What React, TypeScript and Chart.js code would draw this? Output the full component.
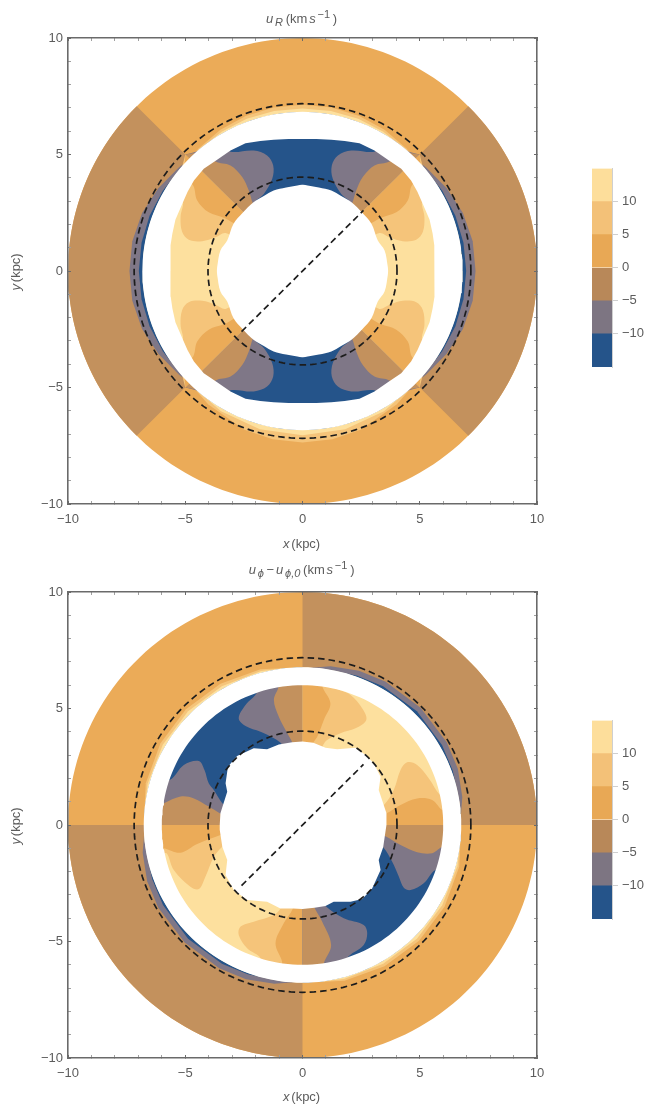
import React, { useEffect, useRef } from "react";
import { Chart, registerables } from "chart.js";
Chart.register(...registerables);

type P = [number, number];
type Run = { t: string; i?: boolean; sub?: boolean; sup?: boolean };

const YELLOW = "#fde09e", LIGHT = "#f5c47a", ORANGE = "#ebab58", BROWN = "#c3915d", GRAY = "#7f7787", BLUE = "#25548a";
const binColors = [BLUE, "#7d7582", "#b88859", "#e8a855", "#f3c178", "#fdde9b"];
const binRanges: P[] = [[-15, -10], [-10, -5], [-5, 0], [0, 5], [5, 10], [10, 15]];
const barTicks = [-10, -5, 0, 5, 10];

const outerRadius = 10;
const dashedRadii = [4.03, 7.18];
const dashedBar: P[] = [[-2.6, -2.6], [2.6, 2.6]];

// ---- upper panel (u_R), upper-left quadrant outlines, kpc ----
const topGapRadius = 6.82;
const topBandEdge: P[] = [[-5.63, 0], [-5.63, 0.6], [-5.62, 1.1], [-5.55, 1.6], [-5.42, 2.2], [-5.13, 2.88], [-4.9, 3.4], [-4.63, 3.88], [-4.21, 4.39], [-3.64, 4.78], [-3.07, 5.17], [-2.43, 5.48], [-1.8, 5.58], [-1.23, 5.63], [-0.6, 5.66], [-0.02, 5.67]];
const topHoleEdge: P[] = [[-3.65, 0], [-3.64, 0.16], [-3.5, 0.88], [-3.21, 1.31], [-2.94, 2.03], [-2.55, 2.5], [-2.09, 2.95], [-1.65, 3.22], [-1.23, 3.45], [-0.7, 3.58], [-0.22, 3.67], [-0.02, 3.7]];
const topGrayLobe: P[] = [[-5, 5], [-3.25, 5.4], [-3.07, 5.12], [-2.08, 5.17], [-1.51, 4.96], [-1.25, 4.53], [-1.29, 3.96], [-1.65, 3.31], [-2.05, 2.91], [-1.7, 2.4], [-2, 2]];
const topBrownLobe: P[] = [[-5, 5], [-4.0, 5.1], [-3.71, 4.7], [-3.07, 4.53], [-2.57, 4.03], [-2.29, 3.45], [-2.12, 2.91], [-1.8, 2.3], [-2, 2]];
const topOrangeLobe: P[] = [[-5, 5], [-5.0, 3.95], [-4.66, 3.67], [-4.49, 3.03], [-4.0, 2.52], [-3.33, 2.28], [-3.0, 2.09], [-2.2, 1.6], [-2, 2]];
const topLightLobe: P[] = [[-5, 5], [-5.4, 3.2], [-5.1, 2.98], [-5.2, 2.31], [-5.13, 1.67], [-4.85, 1.34], [-4.28, 1.28], [-3.71, 1.45], [-3.28, 1.63], [-2.5, 1.2], [-2, 2]];
const topBlueAngles = [[45, 135], [225, 315]];
const topOuterBrownAngles = [[135, 225], [-45, 45]];
const topGrayRim: P[] = [[136, 6.82], [140, 6.9], [150, 7.1], [160, 7.28], [170, 7.37], [180, 7.38], [190, 7.37], [200, 7.28], [210, 7.1], [220, 6.9], [224, 6.82]];
const topBlueRim: P[] = [[140, 6.82], [150, 6.88], [160, 6.94], [170, 6.97], [180, 6.98], [190, 6.97], [200, 6.94], [210, 6.88], [220, 6.82]];
const topLightRimUp: P[] = [[46, 6.82], [50, 6.88], [60, 7.0], [70, 7.08], [80, 7.12], [90, 7.13], [100, 7.12], [110, 7.08], [120, 7.0], [130, 6.88], [134, 6.82]];
const topYellowRimUp: P[] = [[47, 6.82], [60, 6.9], [70, 6.95], [80, 6.97], [90, 6.97], [100, 6.97], [110, 6.95], [120, 6.9], [133, 6.82]];
const topLightRimDown: P[] = [[226, 6.82], [235, 7.0], [250, 7.25], [260, 7.33], [270, 7.36], [280, 7.33], [290, 7.25], [305, 7.0], [314, 6.82]];
const topYellowRimDown: P[] = [[227, 6.82], [240, 6.95], [255, 7.03], [270, 7.05], [285, 7.03], [300, 6.95], [313, 6.82]];

// ---- lower panel (u_phi), outlines, kpc ----
const lowGapRadius = 6.76;
const lowBandRadius = 6.0;
const lowHoleEdge: P[] = [[-3.53, 0], [-3.5, 0.5], [-3.21, 1.43], [-3.28, 1.79], [-3.18, 2.5], [-2.79, 2.96], [-2.08, 3.29], [-1.51, 3.25], [-1.01, 3.46], [-0.44, 3.55], [0, 3.58], [0.46, 3.53], [0.98, 3.32], [1.48, 3.25], [2.26, 3.32], [2.69, 3.0], [3.04, 2.65], [3.33, 2.07], [3.25, 1.5], [3.58, 0.5], [3.58, 0], [3.44, -0.96], [3.25, -1.5], [3.33, -1.93], [2.97, -2.72], [2.55, -3.18], [2.05, -3.29], [1.33, -3.29], [0.98, -3.48], [0.51, -3.55], [0, -3.6], [-0.41, -3.58], [-0.94, -3.58], [-1.51, -3.29], [-2.36, -3.22], [-2.93, -2.79], [-3.28, -2.15], [-3.21, -1.5], [-3.42, -0.93], [-3.53, -0.2]];
const lowBrownLeft: P[] = [[-6.2, 0], [-6.2, 0.8], [-5.91, 0.93], [-5.2, 1.22], [-4.63, 1.14], [-4.0, 0.79], [-3.53, 0.5], [-3, 0.2], [-3, 0]];
const lowGrayLeft: P[] = [[-6.2, 0], [-6.3, 1.95], [-5.66, 1.93], [-5.06, 2.58], [-4.42, 2.75], [-4.18, 2.36], [-4.0, 1.79], [-3.78, 1.5], [-3.42, 0.93], [-3, 0.5], [-3, 0]];
const lowGrayTop: P[] = [[0, 6.3], [-2.05, 6.2], [-1.93, 5.72], [-2.43, 5.15], [-2.72, 4.58], [-2.43, 4.25], [-1.79, 4.0], [-1.22, 3.72], [-0.87, 3.46], [-0.6, 3.0], [0, 3.0]];
const lowBrownTop: P[] = [[0, 6.3], [-1.05, 6.3], [-1.01, 5.97], [-1.22, 5.36], [-1.01, 4.65], [-0.65, 3.94], [-0.44, 3.55], [-0.3, 3.0], [0, 3.0]];
const lowOrangeTop: P[] = [[0, 6.3], [0.9, 6.3], [0.84, 5.97], [1.19, 5.22], [0.91, 4.51], [0.63, 3.79], [0.46, 3.53], [0.3, 3.0], [0, 3.0]];
const lowLightTop: P[] = [[0, 6.3], [1.45, 6.3], [1.34, 5.94], [2.05, 5.58], [2.55, 5.0], [2.72, 4.51], [2.26, 4.15], [1.62, 3.94], [1.05, 3.65], [0.88, 3.43], [0.7, 3.0], [0, 3.0]];
const lowLightRight: P[] = [[3, 0], [3, 0.6], [3.47, 0.86], [3.89, 1.5], [4.18, 2.36], [4.46, 2.69], [4.89, 2.58], [5.39, 2.0], [5.88, 1.29], [6.3, 1.2], [6.3, 0]];
const lowOrangeRight: P[] = [[3, 0], [3, 0.3], [3.58, 0.5], [4.18, 0.86], [4.89, 1.14], [5.53, 1.07], [5.96, 0.64], [6.3, 0.6], [6.3, 0]];
const lowOrangeLeft: P[] = [[-6.3, 0], [-6.3, -0.9], [-5.91, -1.0], [-5.2, -1.19], [-4.49, -0.82], [-3.5, -0.43], [-3, -0.3], [-3, 0]];
const lowLightLeft: P[] = [[-6.3, 0], [-6.1, -1.27], [-5.8, -1.21], [-5.49, -1.93], [-4.78, -2.65], [-4.42, -2.75], [-4.14, -2.22], [-3.78, -1.36], [-3.42, -0.93], [-3, -0.6], [-3, 0]];
const lowOrangeBottom: P[] = [[0, -3], [-0.3, -3], [-0.41, -3.58], [-0.8, -4.22], [-1.15, -5.08], [-0.87, -5.87], [-0.9, -6.3], [0, -6.3]];
const lowLightBottom: P[] = [[0, -3], [-0.7, -3], [-0.94, -3.58], [-1.22, -3.86], [-2.08, -4.15], [-2.64, -4.36], [-2.72, -4.72], [-2.36, -5.29], [-1.79, -5.72], [-1.9, -6.3], [0, -6.3]];
const lowBrownBottom: P[] = [[0, -3], [0.3, -3], [0.51, -3.55], [0.84, -4.15], [1.22, -5.15], [0.91, -5.94], [0.95, -6.3], [0, -6.3]];
const lowGrayBottom: P[] = [[0, -3], [0.7, -3], [0.98, -3.48], [1.76, -4.0], [2.61, -4.29], [2.76, -4.65], [2.61, -5.15], [1.91, -5.72], [2.05, -6.2], [0, -6.3]];
const lowBrownRight: P[] = [[3, 0], [3, -0.3], [3.58, -0.5], [4.18, -0.86], [4.89, -1.17], [5.53, -1.21], [5.93, -0.96], [6.3, -0.9], [6.3, 0]];
const lowGrayRight: P[] = [[3, 0], [3, -0.6], [3.44, -0.96], [3.82, -1.57], [4.11, -2.22], [4.32, -2.69], [4.61, -2.79], [5.17, -2.5], [5.67, -1.93], [6.1, -2.05], [6.3, 0]];
const lowOuterBrownAngles = [[0, 90], [180, 270]];
const lowBandBlueAngles = [[90, 180], [270, 360]];
const lowGrayRim: P[] = [[3, 6.76], [10, 6.92], [20, 7.05], [30, 7.1], [45, 7.12], [60, 7.1], [70, 7.05], [80, 6.92], [87, 6.76]];
const lowBlueRim: P[] = [[10, 6.76], [20, 6.82], [30, 6.87], [45, 6.9], [60, 6.87], [70, 6.82], [80, 6.76]];
const lowLightRim: P[] = [[92, 6.76], [105, 6.92], [120, 7.0], [135, 7.03], [150, 7.0], [165, 6.92], [178, 6.76]];
const lowYellowRim: P[] = [[95, 6.76], [105, 6.84], [120, 6.88], [135, 6.9], [150, 6.88], [165, 6.84], [175, 6.76]];

const titleTop: Run[] = [{ t: "u", i: true }, { t: "R", i: true, sub: true }, { t: "(km" }, { t: "s", i: true }, { t: "−1", sup: true }, { t: ")" }];
const titleLow: Run[] = [{ t: "u", i: true }, { t: "ϕ", i: true, sub: true }, { t: "−" }, { t: "u", i: true }, { t: "ϕ,0", i: true, sub: true }, { t: "(km" }, { t: "s", i: true }, { t: "−1", sup: true }, { t: ")" }];
const xLabel: Run[] = [{ t: "x", i: true }, { t: "(kpc)" }];
const yLabel: Run[] = [{ t: "y", i: true }, { t: "(kpc)" }];

const rad = Math.PI / 180;
const arc = (r: number, a0: number, a1: number): P[] => {
  const pts: P[] = [];
  const n = Math.ceil(Math.abs(a1 - a0) / 2);
  for (let k = 0; k <= n; k++) {
    const a = (a0 + ((a1 - a0) * k) / n) * rad;
    pts.push([r * Math.cos(a), r * Math.sin(a)]);
  }
  return pts;
};
const pie = (r: number, a0: number, a1: number): P[] => [[0, 0], ...arc(r, a0, a1)];
const rimPie = (rim: P[], shift = 0): P[] => [[0, 0], ...rim.map(([a, r]): P => [r * Math.cos((a + shift) * rad), r * Math.sin((a + shift) * rad)])];
const fourWay = (p: P[]): P[][] => [p, p.map(([x, y]): P => [-x, y]), p.map(([x, y]): P => [x, -y]), p.map(([x, y]): P => [-x, -y])];
const byAngle = (p: P[]): P[] => [...p].sort((u, v) => Math.atan2(u[1], u[0]) - Math.atan2(v[1], v[0]));
const ringOutline = (quarter: P[]): P[] => byAngle(fourWay(quarter).flat());
const ringMask = (outer: P[], inner: P[]): P[] => {
  const rev = [...inner].reverse();
  return [...outer, outer[0], rev[rev.length - 1], ...rev];
};

type Shape = { poly: P[]; fill?: string; dash?: boolean; smooth?: boolean };

function topShapes(): Shape[] {
  const s: Shape[] = [];
  s.push({ poly: arc(outerRadius, 0, 360), fill: ORANGE });
  topOuterBrownAngles.forEach(([a, b]) => s.push({ poly: pie(outerRadius, a, b), fill: BROWN }));
  [0, 180].forEach((sh) => {
    s.push({ poly: rimPie(topGrayRim, sh), fill: GRAY });
    s.push({ poly: rimPie(topBlueRim, sh), fill: BLUE });
  });
  s.push({ poly: rimPie(topLightRimUp), fill: LIGHT }, { poly: rimPie(topYellowRimUp), fill: YELLOW });
  s.push({ poly: rimPie(topLightRimDown), fill: LIGHT }, { poly: rimPie(topYellowRimDown), fill: YELLOW });
  s.push({ poly: arc(topGapRadius, 0, 360), fill: YELLOW });
  topBlueAngles.forEach(([a, b]) => s.push({ poly: pie(topGapRadius, a, b), fill: BLUE }));
  const lobes: [P[], string][] = [[topGrayLobe, GRAY], [topBrownLobe, BROWN], [topLightLobe, LIGHT], [topOrangeLobe, ORANGE]];
  lobes.forEach(([l, c]) => fourWay(l).forEach((poly) => s.push({ poly, fill: c, smooth: true })));
  const outer = arc(topGapRadius + 0.01, -180, 180);
  s.push({ poly: ringMask(outer, ringOutline(topBandEdge)), fill: "#ffffff" });
  s.push({ poly: ringOutline(topHoleEdge), fill: "#ffffff", smooth: true });
  return s;
}

function lowShapes(): Shape[] {
  const s: Shape[] = [];
  s.push({ poly: arc(outerRadius, 0, 360), fill: ORANGE });
  lowOuterBrownAngles.forEach(([a, b]) => s.push({ poly: pie(outerRadius, a, b), fill: BROWN }));
  [0, 180].forEach((sh) => {
    s.push({ poly: rimPie(lowGrayRim, sh), fill: GRAY });
    s.push({ poly: rimPie(lowBlueRim, sh), fill: BLUE });
    s.push({ poly: rimPie(lowLightRim, sh), fill: LIGHT });
    s.push({ poly: rimPie(lowYellowRim, sh), fill: YELLOW });
  });
  s.push({ poly: arc(lowGapRadius, 0, 360), fill: YELLOW });
  lowBandBlueAngles.forEach(([a, b]) => s.push({ poly: pie(lowGapRadius, a, b), fill: BLUE }));
  const lobes: [P[], string][] = [
    [lowGrayLeft, GRAY], [lowBrownLeft, BROWN], [lowGrayTop, GRAY], [lowBrownTop, BROWN],
    [lowLightTop, LIGHT], [lowOrangeTop, ORANGE], [lowLightRight, LIGHT], [lowOrangeRight, ORANGE],
    [lowLightLeft, LIGHT], [lowOrangeLeft, ORANGE], [lowLightBottom, LIGHT], [lowOrangeBottom, ORANGE],
    [lowGrayBottom, GRAY], [lowBrownBottom, BROWN], [lowGrayRight, GRAY], [lowBrownRight, BROWN],
  ];
  lobes.forEach(([poly, c]) => s.push({ poly, fill: c, smooth: true }));
  s.push({ poly: ringMask(arc(lowGapRadius + 0.01, -180, 180), arc(lowBandRadius, -180, 180)), fill: "#ffffff" });
  s.push({ poly: lowHoleEdge, fill: "#ffffff" });
  return s;
}

const dashShapes = (): Shape[] => [
  ...dashedRadii.map((r) => ({ poly: arc(r, 0, 360), dash: true })),
  { poly: dashedBar, dash: true },
];

const FONT = '"Liberation Sans", Arial, sans-serif';
const TEXT = "#5c5c5c";

function drawRuns(ctx: CanvasRenderingContext2D, runs: Run[], cx: number, cy: number, rot = 0) {
  const fontOf = (r: Run) => `${r.i ? "italic " : ""}${r.sub || r.sup ? 11 : 13}px ${FONT}`;
  const adv = (r: Run) => ctx.measureText(r.t).width + (r.sub || r.sup ? 2.8 : 1.8);
  let w = 0;
  runs.forEach((r) => { ctx.font = fontOf(r); w += adv(r); });
  ctx.save();
  ctx.translate(cx, cy);
  ctx.rotate(rot);
  ctx.fillStyle = TEXT;
  ctx.textBaseline = "alphabetic";
  ctx.textAlign = "left";
  let x = -w / 2;
  runs.forEach((r) => {
    ctx.font = fontOf(r);
    ctx.fillText(r.t, x, r.sub ? 3 : r.sup ? -5 : 0);
    x += adv(r);
  });
  ctx.restore();
}

function makePanel(canvas: HTMLCanvasElement, shapes: Shape[], title: Run[], top: number, bottom: number, titleY: number, xLabY: number) {
  const H = canvas.height;
  const axis = (pos: string, fit: (s: any) => void, labels: boolean, pad: number) => ({
    type: "linear",
    position: pos,
    axis: pos === "left" || pos === "right" ? "y" : "x",
    min: -10,
    max: 10,
    afterFit: fit,
    border: { display: true, color: "#6a6a6a", width: 1.6, z: 2 },
    grid: {
      drawOnChartArea: false,
      drawTicks: true,
      tickLength: -3,
      z: 1,
      tickWidth: 1,
      tickColor: (c: any) => (c.tick && c.tick.value % 5 === 0 ? "#6a6a6a" : "#a0a0a0"),
    },
    ticks: {
      stepSize: 1,
      autoSkip: false,
      maxRotation: 0,
      padding: pad,
      color: TEXT,
      font: { family: FONT, size: 13 },
      callback: (v: number) => (labels && v % 5 === 0 ? String(v).replace("-", "−") : ""),
    },
  });
  return new Chart(canvas, {
    type: "scatter",
    data: {
      datasets: shapes
        .map((s) => ({
          data: s.poly.map(([x, y]) => ({ x, y })),
          showLine: true,
          pointRadius: 0,
          pointHoverRadius: 0,
          tension: s.smooth ? 0.35 : 0,
          backgroundColor: s.fill || "transparent",
          fill: s.fill ? "shape" : false,
          borderWidth: s.dash ? 1.7 : 0,
          borderColor: s.dash ? "#1c1c1c" : "transparent",
          borderDash: s.dash ? [6.5, 4] : [],
          xAxisID: "x",
          yAxisID: "y",
        }))
        .reverse(),
    },
    options: {
      responsive: false,
      animation: false,
      events: [],
      layout: { padding: 0 },
      plugins: { legend: { display: false }, tooltip: { enabled: false }, title: { display: false } },
      scales: {
        x: axis("bottom", (s) => { s.height = H - bottom; }, true, 10.5),
        y: axis("left", (s) => { s.width = 68; }, true, 8),
        xTop: axis("top", (s) => { s.height = top; }, false, 0),
        yRight: axis("right", (s) => { s.width = 664 - 537; }, false, 0),
      },
    } as any,
    plugins: [
      {
        id: "runs",
        afterDraw(chart: any) {
          const a = chart.chartArea;
          const mx = (a.left + a.right) / 2;
          const my = (a.top + a.bottom) / 2;
          drawRuns(chart.ctx, title, mx, titleY);
          drawRuns(chart.ctx, xLabel, mx, xLabY);
          drawRuns(chart.ctx, yLabel, 20, my, -Math.PI / 2);
        },
      },
    ],
  } as any);
}

function makeBar(canvas: HTMLCanvasElement) {
  return new Chart(canvas, {
    type: "bar",
    data: {
      labels: ["bin"],
      datasets: binRanges.map((r, i) => ({
        data: [r],
        backgroundColor: binColors[i],
        borderWidth: 0,
        barPercentage: 1,
        categoryPercentage: 1,
        grouped: false,
      })),
    },
    options: {
      responsive: false,
      animation: false,
      events: [],
      layout: { padding: { top: 10.5, bottom: 10 } },
      plugins: { legend: { display: false }, tooltip: { enabled: false } },
      scales: {
        x: { display: false, stacked: false },
        y: {
          position: "right",
          min: -15,
          max: 15,
          afterFit: (s: any) => { s.width = 52; s.paddingTop = 0; s.paddingBottom = 0; },
          afterBuildTicks: (s: any) => { s.ticks = barTicks.map((value) => ({ value })); },
          border: { display: true, color: "#cfcfcf", width: 1 },
          grid: { drawOnChartArea: false, tickLength: 6, tickColor: "#cfcfcf" },
          ticks: {
            padding: 4,
            color: TEXT,
            autoSkip: false,
            font: { family: FONT, size: 13 },
            callback: (v: number) => String(v).replace("-", "−"),
          },
        },
      },
    } as any,
  } as any);
}

const abs = (left: number, top: number): React.CSSProperties => ({ position: "absolute", left, top, display: "block" });

export default function App() {
  const a = useRef<HTMLCanvasElement>(null);
  const b = useRef<HTMLCanvasElement>(null);
  const c = useRef<HTMLCanvasElement>(null);
  const d = useRef<HTMLCanvasElement>(null);
  useEffect(() => {
    const charts = [
      makePanel(a.current!, [...topShapes(), ...dashShapes()], titleTop, 38, 504, 23, 548),
      makePanel(b.current!, [...lowShapes(), ...dashShapes()], titleLow, 39, 505, 21, 548),
      makeBar(c.current!),
      makeBar(d.current!),
    ];
    return () => charts.forEach((x) => x.destroy());
  }, []);
  return (
    <div style={{ position: "absolute", left: 0, top: 0, width: 664, height: 1107, overflow: "hidden", background: "#fff" }}>
      <canvas ref={a} width={664} height={553} style={abs(0, 0)} />
      <canvas ref={b} width={664} height={554} style={abs(0, 553)} />
      <canvas ref={c} width={72} height={219} style={abs(592, 158)} />
      <canvas ref={d} width={72} height={219} style={abs(592, 710)} />
    </div>
  );
}
